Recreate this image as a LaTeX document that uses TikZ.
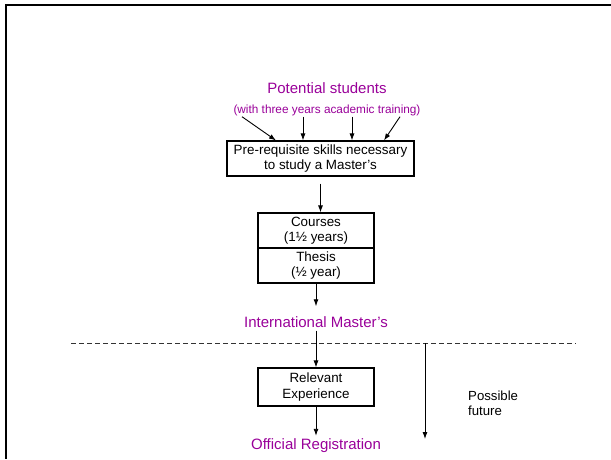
\documentclass[tikz,border=0pt]{standalone}
\usepackage{fontspec}
\setmainfont{Liberation Sans}
\usetikzlibrary{arrows.meta,calc,positioning}
\definecolor{labelpurple}{HTML}{990099}
\tikzset{
  flow/.style={-{Latex[length=7pt,width=5pt]},line width=0.9pt},
  stagebox/.style={draw,line width=1.1pt,align=center,inner sep=0pt,font=\fontsize{13.4}{15.5}\selectfont},
  purplelabel/.style={text=labelpurple,inner sep=0pt,font=\fontsize{15}{17}\selectfont},
  divider/.style={dashed,dash pattern=on 5pt off 3pt,line width=0.8pt,black!80},
  frameline/.style={line width=2.6pt}
}
\begin{document}
\begin{tikzpicture}[x=1pt,y=-1pt]
  \useasboundingbox (0,0) rectangle (611,459);
  \draw[frameline] (611,5) -- (6,5) -- (6,459);

  \node[purplelabel] (potential) at (327,88) {Potential students};
  \node[purplelabel,font=\fontsize{11.8}{14}\selectfont] (training) at (327,110) {(with three years academic training)};
  \node[stagebox,minimum width=187pt,minimum height=35pt] (prereq) at (320.5,158.5) {Pre-requisite skills necessary\\to study a Master's};
  \node[stagebox,minimum width=116pt,minimum height=35pt] (courses) at (316,230.5) {Courses\\(1½ years)};
  \node[stagebox,minimum width=116pt,minimum height=35pt] (thesis) at (316,265.5) {Thesis\\(½ year)};
  \node[purplelabel] (intl) at (316,322) {International Master's};
  \node[stagebox,minimum width=116pt,minimum height=38pt] (experience) at (316,387) {Relevant\\Experience};
  \node[purplelabel] (registration) at (316,446) {Official Registration};
  \node[align=left,anchor=north west,inner sep=0pt,font=\fontsize{13.2}{15}\selectfont] (future) at (468,391) {Possible\\future};

  \coordinate (dashL) at (71,343);
  \coordinate (dashR) at (576,343);
  \coordinate (futuretop) at (425,343);
  \coordinate (futureend) at (425,439);
  \draw[divider] (dashL) -- (dashR);

  \foreach \from/\to in {-85/-44.5,-24/-17.5,25/31.5,73/63.5}
    \draw[flow] ([xshift=\from pt,yshift=-1pt]training.south) -- ([xshift=\to pt]prereq.north);
  \draw[flow] ([yshift=-7pt]prereq.south) -- (prereq.south |- courses.north);
  \draw[flow] (thesis.south) -- ([yshift=10pt]intl.north);
  \draw[flow] ([yshift=-3pt]intl.south) -- (experience.north);
  \draw[flow] (experience.south) -- ([yshift=3pt]registration.north);
  \draw[flow] (futuretop) -- (futureend);
\end{tikzpicture}
\end{document}
